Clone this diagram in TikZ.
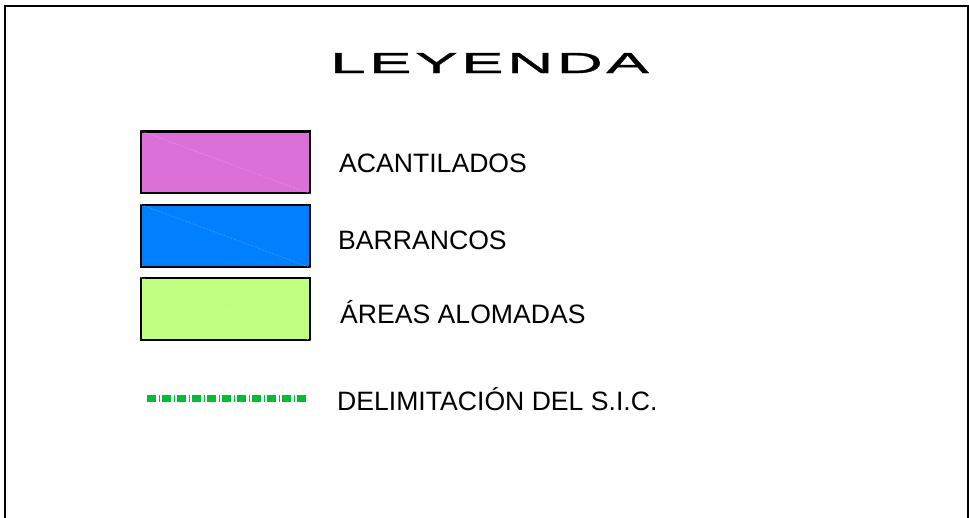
\documentclass[tikz,border=0pt]{standalone}
\usepackage{fontspec}
\setmainfont{Liberation Sans}
\newfontfamily\titlefont[FakeStretch=2.2,LetterSpace=12,FakeBold=1.2]{Liberation Sans}
\usepackage{tikz}
\usetikzlibrary{positioning}
\definecolor{myorchid}{RGB}{218,112,216}
\definecolor{myazure}{RGB}{0,127,255}
\definecolor{mylime}{RGB}{192,255,128}
\definecolor{mysicgreen}{RGB}{0,190,50}
\tikzstyle{swatch}=[draw=black,line width=2.2pt,minimum width=169pt,minimum height=61.5pt,inner sep=0pt]
\tikzstyle{label}=[anchor=base west,inner sep=0pt,font=\fontsize{26.6}{26.6}\selectfont]

\begin{document}
\begin{tikzpicture}[
  x=1pt,y=-1pt,
  diag/.style={line width=0.5pt,draw=#1!55!white,densely dotted},
  sicline/.style={
    draw=mysicgreen,
    line width=7pt,
    dash pattern=on 9pt off 2.5pt on 1pt off 2.5pt
    }
]
\useasboundingbox (0,0) rectangle (969,517);
\fill[white] (0,0) rectangle (969,517);
% marco
\draw[line width=2pt] (5,520) -- (5,6) -- (968,6) -- (968,520);

\node[anchor=base west,inner sep=0pt,font=\titlefont\fontsize{29}{29}\selectfont] (title) at (330,73) {LEYENDA};

\node[swatch,fill=myorchid] (acant) at (225.5,162.3) {};
\node[swatch,fill=myazure] (barr) at (225.5,236) {};
\node[swatch,fill=mylime] (alom) at (225.5,309) {};
\draw[diag=myorchid] (acant.north west) -- (acant.south east);
\draw[diag=myazure] (barr.north west) -- (barr.south east);
\draw[diag=mylime] (alom.north west) -- (alom.south east);

\node[label] (acantlbl) at (339,172) {ACANTILADOS};
\node[label] (barrlbl) at (338,249) {BARRANCOS};
\node[label] (alomlbl) at (340,323) {ÁREAS ALOMADAS};

\coordinate (sicA) at (147,398);
\coordinate (sicB) at (307,398);
\draw[sicline] (sicA) -- (sicB);
\node[label] (siclbl) at (337,410) {DELIMITACIÓN DEL S.I.C.};

\end{tikzpicture}
\end{document}
